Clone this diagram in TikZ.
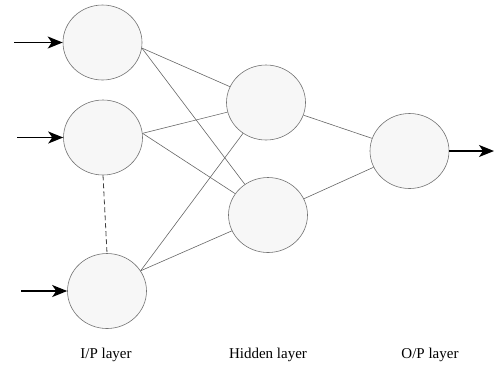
\documentclass[tikz,border=0pt]{standalone}
\usepackage{fontspec}
\setmainfont{Liberation Serif}
\usetikzlibrary{shapes.geometric,arrows.meta}
\begin{document}
\begin{tikzpicture}[x=1pt,y=-1pt,
  neuron/.style={draw=black!55,line width=0.6pt,fill=black!3,ellipse,minimum width=79pt,minimum height=75pt,inner sep=0pt},
  link/.style={draw=black!60,line width=0.6pt},
  inarrow/.style={draw=black,line width=1.3pt,-{Stealth[length=15pt,width=12pt,inset=4pt]}},
  lbl/.style={font=\fontsize{15}{18}\selectfont,inner sep=0pt}]
\useasboundingbox (0,0) rectangle (494,376);
\node[neuron] (i1) at (102.5,42.5) {};
\node[neuron] (i2) at (103,137.5) {};
\node[neuron] (i3) at (107,291) {};
\node[neuron] (h1) at (266,102.5) {};
\node[neuron] (h2) at (268,215) {};
\node[neuron] (o) at (409.5,151) {};
\coordinate (a1) at (14,42.5);
\coordinate (a2) at (17,137.5);
\coordinate (a3) at (21,291);
\coordinate (a4) at (494,151);
\draw[inarrow] (a1) -- (i1.west);
\draw[inarrow] (a2) -- (i2.west);
\draw[inarrow] (a3) -- (i3.west);
\draw[inarrow] (o.east) -- (a4);
\draw[link] (i1.-8) -- (h1);
\draw[link] (i1.-8) -- (h2);
\draw[link] (i2.6) -- (h1);
\draw[link] (i2.6) -- (h2);
\draw[link] (i3.31) -- (h1);
\draw[link] (i3.31) -- (h2);
\draw[link] (h1) -- (o);
\draw[link] (h2) -- (o);
\draw[draw=black!75,line width=0.8pt,dash pattern=on 5pt off 3pt] (i2.south) -- (i3.north);
\node[lbl] (l1) at (106,355) {I/P layer};
\node[lbl] (l2) at (268,355) {Hidden layer};
\node[lbl] (l3) at (430,355) {O/P layer};
\end{tikzpicture}
\end{document}
